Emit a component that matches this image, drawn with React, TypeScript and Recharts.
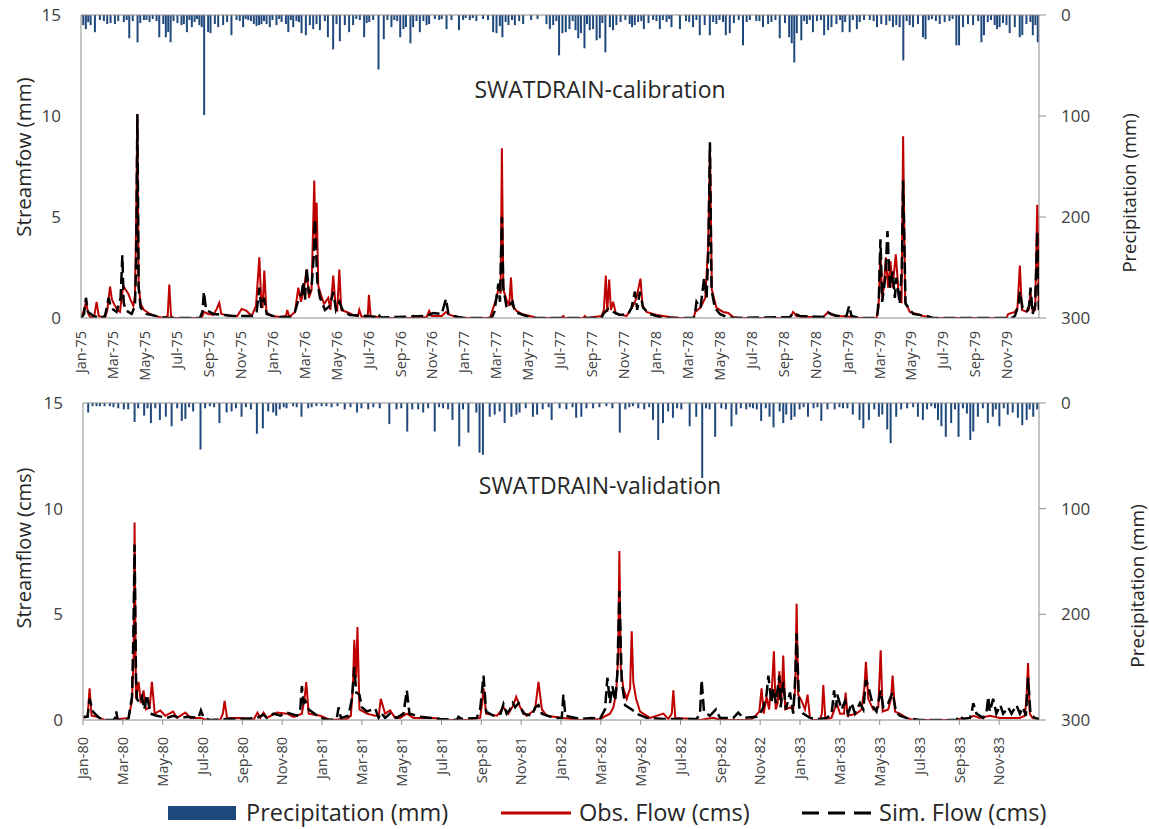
import React from 'react';
import { ComposedChart, Line, Bar, XAxis, YAxis, ReferenceLine } from 'recharts';

const FONT = '"Open Sans", "Noto Sans", sans-serif';
const AXIS = '#8c8c8c';
const TXT = '#404040';
const BLUE = '#1F497D';
const RED = '#C00000';

// x positions are month indexes from the start of each period (0 = Jan of first year)
const calTickLabels = [
  'Jan-75', 'Mar-75', 'May-75', 'Jul-75', 'Sep-75', 'Nov-75',
  'Jan-76', 'Mar-76', 'May-76', 'Jul-76', 'Sep-76', 'Nov-76',
  'Jan-77', 'Mar-77', 'May-77', 'Jul-77', 'Sep-77', 'Nov-77',
  'Jan-78', 'Mar-78', 'May-78', 'Jul-78', 'Sep-78', 'Nov-78',
  'Jan-79', 'Mar-79', 'May-79', 'Jul-79', 'Sep-79', 'Nov-79',
];
const valTickLabels = [
  'Jan-80', 'Mar-80', 'May-80', 'Jul-80', 'Sep-80', 'Nov-80',
  'Jan-81', 'Mar-81', 'May-81', 'Jul-81', 'Sep-81', 'Nov-81',
  'Jan-82', 'Mar-82', 'May-82', 'Jul-82', 'Sep-82', 'Nov-82',
  'Jan-83', 'Mar-83', 'May-83', 'Jul-83', 'Sep-83', 'Nov-83',
];

// [month, precipitation mm]
const calPrecip: [number, number][] = [
  [0.15, 10], [0.31, 14], [0.46, 7], [0.61, 10], [0.88, 17], [1.19, 5], [1.44, 6], [1.65, 9], [1.86, 8], [2.13, 9],
  [2.34, 6], [2.69, 7], [2.87, 5], [3.03, 23], [3.25, 6], [3.55, 27], [3.72, 8], [3.95, 5], [4.11, 5], [4.3, 7],
  [4.5, 4], [4.74, 6], [4.91, 22], [5.16, 9], [5.32, 22], [5.47, 17], [5.62, 27], [5.8, 6], [6.05, 8], [6.3, 10],
  [6.45, 9], [6.64, 17], [6.8, 5], [6.95, 12], [7.12, 7], [7.27, 4], [7.42, 10], [7.57, 12], [7.72, 99], [7.97, 17],
  [8.12, 18], [8.39, 9], [8.6, 12], [8.91, 10], [9.16, 7], [9.43, 20], [9.75, 5], [9.95, 6], [10.16, 12], [10.32, 4],
  [10.48, 5], [10.65, 6], [10.83, 9], [11.0, 11], [11.16, 10], [11.31, 9], [11.47, 6], [11.63, 9], [11.83, 12], [12.0, 5],
  [12.25, 10], [12.42, 4], [12.57, 7], [12.84, 9], [12.99, 17], [13.15, 5], [13.3, 12], [13.5, 6], [13.66, 7], [13.82, 18],
  [14.09, 20], [14.34, 10], [14.55, 14], [14.76, 9], [14.97, 15], [15.28, 6], [15.47, 22], [15.8, 34], [16.01, 9], [16.22, 26],
  [16.53, 10], [16.8, 17], [17.05, 10], [17.25, 4], [17.47, 5], [17.74, 22], [17.9, 8], [18.06, 7], [18.31, 5], [18.64, 54],
  [18.97, 24], [19.2, 5], [19.45, 12], [19.63, 5], [19.81, 6], [20.0, 22], [20.2, 14], [20.36, 12], [20.64, 28], [20.81, 12],
  [21.02, 6], [21.23, 17], [21.45, 6], [21.65, 10], [21.81, 9], [22.17, 4], [22.44, 5], [22.6, 4], [22.9, 14], [23.21, 5],
  [23.68, 15], [23.94, 5], [24.1, 3], [24.36, 5], [24.55, 3], [24.77, 6], [25.19, 4], [25.5, 5], [25.82, 17], [26.03, 18],
  [26.24, 11], [26.4, 22], [26.6, 7], [26.78, 10], [27.0, 5], [27.18, 10], [27.45, 6], [27.7, 9], [28.2, 5], [28.6, 4],
  [29.16, 9], [29.37, 14], [29.58, 10], [29.78, 6], [29.95, 40], [30.16, 18], [30.37, 17], [30.6, 14], [30.8, 6], [30.98, 15],
  [31.15, 23], [31.32, 18], [31.54, 33], [31.7, 9], [31.87, 15], [32.08, 14], [32.3, 25], [32.5, 23], [32.66, 8], [32.85, 37],
  [33.13, 12], [33.33, 15], [33.54, 10], [33.8, 7], [34.1, 5], [34.37, 9], [34.52, 12], [34.69, 10], [34.9, 7], [35.1, 6],
  [35.26, 14], [35.55, 8], [35.84, 5], [36.05, 6], [36.26, 14], [36.45, 5], [36.68, 7], [36.85, 4], [36.99, 12], [37.52, 14],
  [37.9, 6], [38.1, 7], [38.34, 12], [38.55, 5], [38.76, 20], [39.07, 10], [39.39, 20], [39.6, 7], [39.8, 9], [40.0, 5],
  [40.22, 7], [40.39, 20], [40.64, 18], [40.9, 8], [41.2, 5], [41.47, 30], [41.7, 7], [41.9, 5], [42.3, 6], [42.5, 6],
  [42.72, 12], [43.04, 9], [43.25, 7], [43.5, 5], [43.77, 23], [44.1, 8], [44.36, 22], [44.52, 28], [44.68, 47], [44.84, 18],
  [45.12, 25], [45.3, 6], [45.47, 9], [45.65, 5], [45.85, 17], [46.1, 6], [46.35, 5], [46.55, 20], [46.8, 15], [47.01, 12],
  [47.32, 9], [47.55, 5], [47.7, 17], [47.87, 7], [48.15, 17], [48.35, 5], [48.6, 14], [48.78, 7], [49.05, 5], [49.41, 5],
  [49.65, 6], [49.86, 12], [50.13, 9], [50.44, 10], [50.65, 6], [50.86, 12], [51.07, 10], [51.28, 12], [51.51, 45], [51.72, 6],
  [51.91, 10], [52.12, 12], [52.43, 9], [52.74, 22], [52.9, 24], [53.1, 5], [53.3, 4], [53.55, 6], [53.79, 9], [54.1, 7],
  [54.4, 6], [54.6, 4], [54.83, 30], [55.0, 30], [55.25, 12], [55.56, 9], [55.88, 10], [56.2, 6], [56.4, 27], [56.56, 20],
  [56.8, 7], [57.0, 5], [57.23, 10], [57.38, 14], [57.54, 12], [57.75, 8], [57.97, 10], [58.17, 18], [58.49, 12], [58.8, 22],
  [58.96, 20], [59.22, 9], [59.47, 7], [59.62, 20], [59.78, 10], [59.93, 27],
];

// [month, observed flow]
const calObs: [number, number][] = [
  [0, 0], [0.19, 0.4], [0.31, 0.8], [0.46, 0.2], [0.61, 0], [0.83, 0.1], [0.98, 0.8], [1.11, 0.1], [1.5, 0], [1.65, 0.4],
  [1.82, 1.55], [1.94, 0.9], [2.13, 0.6], [2.28, 0.4], [2.44, 0.3], [2.55, 1.0], [2.65, 1.6], [2.8, 1.4], [2.96, 1.2], [3.11, 0.9],
  [3.28, 0.6], [3.38, 1.1], [3.44, 4.0], [3.53, 10.0], [3.61, 1.6], [3.74, 0.7], [3.94, 0.4], [4.32, 0.2], [4.74, 0.08], [5.16, 0],
  [5.43, 0.1], [5.53, 1.65], [5.64, 0.1], [5.78, 0], [7.56, 0], [7.7, 0.3], [7.97, 0.2], [8.29, 0.15], [8.5, 0.45], [8.66, 0.75],
  [8.79, 0.2], [9.33, 0.1], [9.79, 0.1], [10.06, 0.45], [10.37, 0.35], [10.69, 0.1], [10.96, 0.6], [11.17, 3.0], [11.29, 0.8], [11.37, 0.5],
  [11.48, 2.35], [11.61, 0.3], [11.94, 0.1], [12.46, 0.05], [12.84, 0.1], [12.92, 0.4], [13.05, 0.05], [13.4, 0.3], [13.61, 1.5], [13.78, 0.8],
  [13.96, 1.4], [14.13, 2.4], [14.28, 1.0], [14.44, 1.4], [14.61, 6.8], [14.69, 3.5], [14.76, 5.7], [14.86, 1.6], [15.01, 1.2], [15.22, 0.7],
  [15.49, 1.0], [15.62, 0.4], [15.8, 2.1], [15.95, 0.5], [16.05, 0.4], [16.18, 2.4], [16.3, 0.4], [16.64, 0.3], [17.05, 0.15], [17.35, 0.1],
  [17.43, 0.4], [17.56, 0.08], [17.89, 0.05], [17.97, 0.2], [18.03, 1.15], [18.14, 0.1], [18.52, 0.05], [18.93, 0], [20.71, 0], [20.81, 0.1],
  [20.91, 0], [21.65, 0.05], [21.81, 0.35], [21.96, 0.1], [22.59, 0.1], [22.86, 0.3], [23.11, 0.15], [23.52, 0.05], [24.15, 0], [25.61, 0],
  [25.82, 0.5], [26.03, 1.0], [26.2, 1.7], [26.28, 1.2], [26.36, 8.4], [26.45, 1.4], [26.66, 0.9], [26.82, 0.6], [26.93, 2.0], [27.03, 0.6],
  [27.28, 0.35], [27.59, 0.2], [28.12, 0.1], [28.53, 0], [30.1, 0], [30.2, 0.1], [30.31, 0], [31.45, 0], [31.56, 0.1], [31.66, 0],
  [32.6, 0.1], [32.75, 0.4], [32.87, 2.1], [32.96, 0.3], [33.08, 1.9], [33.19, 0.4], [33.33, 0.8], [33.5, 0.2], [34.17, 0.1], [34.58, 0.6],
  [34.79, 1.0], [35.04, 1.95], [35.17, 0.6], [35.42, 0.3], [36.05, 0.15], [36.88, 0.05], [37.49, 0], [38.37, 0], [38.47, 0.3], [38.79, 0.5],
  [39.1, 1.0], [39.28, 3.6], [39.39, 8.6], [39.51, 1.4], [39.8, 0.5], [40.22, 0.3], [40.54, 0.25], [40.85, 0.05], [41.27, 0], [44.4, 0],
  [44.6, 0.3], [44.81, 0.1], [45.23, 0.05], [46.49, 0.05], [46.8, 0.3], [47.01, 0.15], [47.53, 0.1], [48.36, 0.05], [48.78, 0], [49.82, 0],
  [49.95, 0.5], [50.07, 3.3], [50.18, 1.0], [50.28, 1.5], [50.41, 3.0], [50.55, 1.5], [50.7, 2.8], [50.83, 1.5], [51.03, 3.15], [51.24, 0.9],
  [51.39, 0.8], [51.49, 9.0], [51.62, 0.8], [51.91, 0.3], [52.33, 0.2], [52.74, 0.1], [53.37, 0], [57.97, 0], [58.07, 0.2], [58.49, 0.3],
  [58.65, 0.5], [58.8, 2.6], [58.93, 0.4], [59.22, 0.3], [59.36, 0.4], [59.47, 1.3], [59.6, 0.3], [59.76, 0.4], [59.89, 5.6], [59.99, 0.5],
];

// [month, simulated flow]
const calSim: [number, number][] = [
  [0, 0], [0.19, 0.2], [0.31, 1.0], [0.44, 0.3], [0.77, 0.1], [1.19, 0], [1.5, 0.1], [1.61, 0.5], [1.73, 1.0], [1.88, 0.5],
  [2.23, 0.3], [2.48, 1.0], [2.59, 3.1], [2.67, 0.8], [2.78, 0.4], [3.17, 0.2], [3.38, 0.6], [3.46, 3.0], [3.53, 10.1], [3.61, 1.5],
  [3.74, 0.5], [4.11, 0.2], [4.95, 0.05], [5.36, 0], [7.45, 0], [7.6, 0.3], [7.7, 1.3], [7.83, 0.4], [8.29, 0.2], [9.54, 0.1],
  [10.79, 0.1], [11.0, 0.3], [11.17, 1.5], [11.29, 0.5], [11.46, 1.0], [11.63, 0.2], [12.25, 0.05], [13.09, 0.05], [13.4, 0.3], [13.65, 1.0],
  [13.82, 1.2], [13.92, 1.8], [14.03, 0.9], [14.13, 2.5], [14.28, 1.2], [14.44, 1.5], [14.57, 3.0], [14.65, 4.9], [14.8, 1.8], [14.97, 1.0],
  [15.28, 0.4], [15.59, 0.6], [15.8, 1.3], [15.97, 0.4], [16.18, 0.8], [16.43, 0.3], [16.85, 0.15], [17.89, 0.1], [18.47, 0.05], [18.62, 0.2],
  [18.77, 0.02], [21.65, 0.1], [22.06, 0.25], [22.59, 0.2], [22.86, 0.95], [23.01, 0.2], [23.32, 0.1], [23.94, 0], [25.72, 0], [25.89, 0.3],
  [26.14, 1.7], [26.24, 0.8], [26.36, 5.0], [26.45, 1.5], [26.66, 0.5], [27.03, 0.8], [27.18, 0.3], [27.7, 0.15], [28.33, 0], [32.6, 0],
  [32.71, 0.2], [33.02, 0.45], [33.33, 0.3], [33.75, 0.15], [34.27, 0.2], [34.48, 0.5], [34.69, 1.3], [34.84, 0.4], [35.0, 1.3], [35.21, 0.5],
  [35.63, 0.2], [36.05, 0.1], [36.46, 0], [38.37, 0], [38.47, 0.3], [38.55, 0.8], [38.8, 0.5], [39.03, 2.0], [39.18, 1.0], [39.3, 3.5],
  [39.39, 8.7], [39.49, 1.4], [39.7, 0.5], [40.01, 0.2], [40.43, 0.05], [40.85, 0], [44.4, 0.05], [44.6, 0.25], [45.02, 0.1], [46.49, 0.05],
  [46.8, 0.25], [47.32, 0.1], [47.94, 0.1], [48.11, 0.6], [48.26, 0.1], [48.78, 0], [49.86, 0], [49.97, 1.0], [50.07, 3.9], [50.18, 0.8],
  [50.37, 2.0], [50.51, 4.3], [50.66, 1.5], [50.83, 2.3], [50.97, 1.0], [51.07, 2.0], [51.28, 0.7], [51.41, 2.5], [51.49, 6.8], [51.64, 0.7],
  [52.12, 0.2], [52.95, 0.1], [53.37, 0], [58.28, 0], [58.49, 0.1], [58.7, 0.6], [58.8, 1.3], [58.97, 0.5], [59.22, 0.3], [59.38, 0.6],
  [59.47, 1.5], [59.6, 0.2], [59.76, 0.6], [59.89, 4.3], [59.99, 0.4],
];

const valPrecip: [number, number][] = [
  [0.28, 9], [0.5, 3], [0.7, 3], [0.87, 3], [1.1, 3], [1.37, 3], [1.55, 4], [1.79, 5], [2.07, 6], [2.29, 6],
  [2.61, 18], [2.79, 5], [3.09, 12], [3.26, 5], [3.43, 19], [3.65, 5], [3.88, 16], [4.18, 13], [4.47, 22], [4.75, 5],
  [4.98, 17], [5.16, 15], [5.35, 4], [5.55, 8], [5.92, 44], [6.15, 5], [6.39, 3], [6.6, 4], [6.87, 19], [7.23, 9],
  [7.48, 8], [7.7, 5], [7.98, 13], [8.2, 4], [8.45, 6], [8.75, 29], [9.05, 24], [9.32, 8], [9.57, 9], [9.72, 12],
  [9.9, 6], [10.1, 4], [10.24, 5], [10.57, 3], [10.75, 4], [10.99, 13], [11.33, 5], [11.5, 4], [11.74, 3], [12.0, 3],
  [12.24, 3], [12.5, 4], [12.8, 3], [13.16, 6], [13.45, 4], [13.78, 9], [14.0, 5], [14.34, 6], [14.6, 4], [14.92, 5],
  [15.4, 20], [15.76, 6], [16.0, 5], [16.3, 27], [16.55, 6], [16.85, 6], [17.1, 9], [17.35, 5], [17.68, 27], [17.9, 4],
  [18.1, 5], [18.35, 6], [18.57, 16], [18.91, 41], [19.1, 6], [19.37, 28], [19.77, 9], [19.93, 47], [20.1, 49], [20.44, 13],
  [20.69, 11], [20.94, 8], [21.19, 19], [21.53, 13], [21.78, 11], [21.94, 9], [22.25, 5], [22.61, 13], [22.82, 11], [23.1, 6],
  [23.4, 4], [23.55, 16], [23.95, 5], [24.29, 6], [24.6, 4], [24.78, 14], [25.04, 13], [25.3, 5], [25.63, 5], [25.95, 4],
  [26.3, 3], [26.6, 5], [26.97, 28], [27.25, 6], [27.45, 4], [27.63, 3], [27.9, 5], [28.2, 6], [28.45, 4], [28.64, 16],
  [28.9, 35], [29.14, 19], [29.4, 8], [29.64, 14], [29.85, 5], [30.06, 6], [30.48, 22], [30.81, 13], [31.11, 71], [31.3, 5],
  [31.48, 6], [31.76, 32], [32.07, 5], [32.3, 6], [32.58, 22], [32.82, 11], [33.05, 5], [33.32, 6], [33.5, 4], [33.66, 5],
  [33.85, 6], [34.07, 17], [34.3, 5], [34.49, 13], [34.69, 23], [35.0, 8], [35.18, 19], [35.33, 11], [35.58, 16], [35.75, 13],
  [36.0, 6], [36.2, 4], [36.42, 13], [36.7, 5], [36.9, 4], [37.09, 17], [37.4, 6], [37.76, 6], [38.0, 4], [38.18, 5],
  [38.4, 5], [38.67, 11], [39.01, 16], [39.2, 24], [39.48, 16], [39.75, 6], [39.98, 13], [40.15, 11], [40.4, 25], [40.57, 38],
  [40.85, 13], [41.1, 6], [41.4, 5], [41.7, 4], [41.94, 13], [42.19, 16], [42.4, 6], [42.61, 3], [42.8, 5], [42.95, 16],
  [43.12, 22], [43.34, 32], [43.61, 19], [43.8, 6], [43.98, 32], [44.2, 5], [44.4, 10], [44.57, 35], [44.72, 27], [44.95, 13],
  [45.2, 5], [45.45, 19], [45.7, 13], [45.85, 6], [46.03, 22], [46.25, 5], [46.45, 11], [46.7, 9], [46.96, 14], [47.18, 21],
  [47.4, 16], [47.55, 6], [47.73, 13], [47.93, 6],
];

const valObs: [number, number][] = [
  [0.03, 0.1], [0.23, 0.15], [0.33, 1.5], [0.43, 0.2], [0.7, 0.15], [1.07, 0], [1.62, 0], [1.87, 0.05], [2.29, 0.1], [2.46, 0.9],
  [2.54, 3.0], [2.59, 9.35], [2.66, 1.0], [2.79, 1.8], [2.91, 0.8], [3.04, 1.4], [3.16, 0.5], [3.35, 0.6], [3.46, 1.8], [3.6, 0.3],
  [3.88, 0.45], [4.13, 0.2], [4.52, 0.4], [4.72, 0.1], [5.14, 0.35], [5.39, 0.1], [5.89, 0.1], [6.22, 0], [6.89, 0], [7.02, 0.3],
  [7.11, 0.9], [7.23, 0.1], [8.06, 0.1], [8.56, 0], [8.76, 0.35], [8.9, 0.1], [9.07, 0.35], [9.23, 0.1], [9.74, 0.35], [10.24, 0.3],
  [10.57, 0.15], [10.99, 0.3], [11.12, 1.0], [11.21, 1.8], [11.33, 0.3], [11.91, 0.2], [12.41, 0], [13.25, 0.05], [13.45, 0.2], [13.55, 1.5],
  [13.62, 3.8], [13.71, 2.0], [13.78, 4.4], [13.88, 0.5], [14.25, 0.3], [14.67, 0.2], [14.85, 0.2], [14.95, 1.0], [15.17, 0.3], [15.42, 0.45],
  [15.67, 0.1], [15.92, 0.1], [16.26, 0.3], [16.59, 0.1], [17.6, 0.1], [17.93, 0.05], [18.27, 0], [19.28, 0], [19.94, 0.1], [20.04, 0.8],
  [20.11, 1.5], [20.24, 0.3], [20.78, 0.2], [21.11, 0.6], [21.36, 0.3], [21.61, 0.7], [21.75, 1.1], [21.95, 0.6], [22.28, 0.2], [22.7, 0.5],
  [22.87, 1.8], [23.04, 0.5], [23.29, 0.2], [24.12, 0.1], [24.96, 0], [25.96, 0.05], [26.46, 0.3], [26.63, 0.6], [26.77, 1.3], [26.87, 3.0],
  [26.93, 8.0], [27.0, 2.5], [27.13, 1.5], [27.3, 1.0], [27.47, 1.5], [27.55, 4.2], [27.63, 1.8], [27.77, 1.0], [27.97, 0.4], [28.47, 0.1],
  [29.14, 0.3], [29.39, 0.05], [29.56, 0.3], [29.64, 1.4], [29.74, 0.1], [30.66, 0.05], [30.98, 0], [31.65, 0.1], [31.99, 0], [33.49, 0],
  [33.66, 0.1], [33.96, 0.4], [34.07, 1.5], [34.18, 0.3], [34.32, 1.1], [34.45, 0.5], [34.49, 1.0], [34.59, 1.5], [34.69, 3.25], [34.78, 0.5],
  [34.88, 0.8], [34.96, 2.3], [35.06, 0.8], [35.16, 3.05], [35.26, 0.5], [35.5, 0.6], [35.66, 0.5], [35.76, 1.5], [35.83, 5.5], [35.91, 1.2],
  [36.08, 0.9], [36.25, 0.5], [36.38, 1.2], [36.5, 0.1], [36.67, 0], [37.0, 0], [37.1, 0.3], [37.17, 1.65], [37.27, 0.05], [37.58, 0.1],
  [37.84, 0.8], [38.01, 0.3], [38.21, 0.3], [38.29, 1.3], [38.39, 0.2], [38.84, 0.3], [39.09, 0.5], [39.23, 1.5], [39.31, 2.75], [39.43, 1.0],
  [39.68, 0.5], [39.93, 0.6], [40.05, 3.3], [40.15, 0.4], [40.43, 0.5], [40.57, 1.0], [40.65, 2.1], [40.77, 0.4], [41.01, 0.3], [41.34, 0.1],
  [41.68, 0], [43.94, 0], [43.99, 0.05], [44.53, 0.1], [44.7, 0.2], [45.03, 0.1], [45.53, 0.2], [46.03, 0.1], [47.04, 0.1], [47.29, 0.2],
  [47.37, 1.0], [47.45, 2.7], [47.54, 0.3], [47.67, 0.1], [48.0, 0.05],
];

const valSim: [number, number][] = [
  [0.03, 0.15], [0.23, 0.15], [0.33, 1.0], [0.5, 0.4], [0.7, 0.2], [0.95, 0], [1.54, 0], [1.61, 0.1], [1.67, 0.4], [1.74, 0],
  [2.21, 0], [2.29, 0.1], [2.46, 1.1], [2.53, 4.0], [2.59, 8.3], [2.66, 2.0], [2.71, 1.0], [2.84, 0.8], [2.96, 1.1], [3.08, 0.5],
  [3.21, 1.2], [3.38, 0.3], [3.71, 0.2], [4.22, 0.1], [4.52, 0.2], [4.88, 0.1], [5.22, 0.15], [5.8, 0.1], [5.92, 0.45], [6.06, 0.1],
  [6.39, 0], [7.23, 0.05], [8.06, 0.05], [8.73, 0.1], [9.07, 0.25], [9.23, 0.1], [9.57, 0.3], [9.9, 0.2], [10.24, 0.35], [10.74, 0.2],
  [10.91, 0.5], [10.99, 1.6], [11.07, 0.8], [11.16, 0.9], [11.33, 0.5], [11.91, 0.1], [12.41, 0], [12.75, 0.1], [12.83, 0.6], [12.95, 0.1],
  [13.33, 0.2], [13.5, 1.0], [13.62, 2.5], [13.72, 1.3], [13.88, 1.2], [14.0, 0.6], [14.25, 0.4], [14.67, 0.55], [14.84, 0.1], [14.95, 0.35],
  [15.17, 0.1], [15.42, 0.3], [15.75, 0.1], [16.09, 0.3], [16.26, 1.4], [16.39, 0.3], [16.93, 0.15], [17.93, 0.05], [18.77, 0], [18.85, 0.15],
  [19.02, 0.05], [19.77, 0.1], [19.94, 0.5], [20.11, 2.1], [20.24, 0.4], [20.61, 0.2], [20.97, 0.3], [21.11, 0.75], [21.27, 0.3], [21.44, 0.5],
  [21.58, 0.8], [21.7, 0.6], [21.87, 0.8], [22.12, 0.3], [22.54, 0.2], [22.7, 0.6], [22.87, 0.7], [23.04, 0.3], [23.62, 0.1], [24.04, 0.1],
  [24.12, 1.2], [24.22, 0.2], [24.96, 0.05], [25.54, 0.1], [25.96, 0.05], [26.21, 0.5], [26.33, 2.0], [26.46, 0.8], [26.58, 1.6], [26.72, 0.9],
  [26.83, 2.2], [26.93, 6.1], [27.05, 1.8], [27.22, 0.7], [27.55, 0.5], [27.8, 0.3], [28.3, 0.1], [29.14, 0.05], [30.81, 0.05], [30.98, 0.3],
  [31.06, 1.9], [31.18, 0.4], [31.47, 0.2], [31.78, 0.5], [31.98, 0.1], [32.65, 0.1], [32.9, 0.35], [33.15, 0.1], [33.82, 0.15], [33.99, 0.3],
  [34.16, 0.6], [34.32, 1.2], [34.41, 2.1], [34.57, 0.8], [34.66, 1.5], [34.79, 0.8], [34.96, 2.1], [35.03, 0.6], [35.16, 1.8], [35.29, 0.5],
  [35.5, 1.3], [35.66, 0.3], [35.76, 2.0], [35.83, 4.1], [35.96, 0.6], [36.16, 0.3], [36.5, 0.1], [37.0, 0.05], [37.34, 0.1], [37.59, 0.3],
  [37.71, 1.4], [37.81, 0.6], [37.87, 1.2], [38.09, 0.5], [38.26, 0.9], [38.42, 0.3], [38.59, 0.8], [38.76, 0.3], [39.01, 0.8], [39.18, 0.5],
  [39.31, 1.9], [39.43, 1.6], [39.68, 0.6], [39.84, 0.4], [40.05, 1.4], [40.18, 0.6], [40.43, 0.8], [40.65, 1.3], [40.82, 0.4], [41.01, 0.2],
  [41.34, 0.1], [41.68, 0.05], [42.01, 0], [43.86, 0], [43.99, 0.2], [44.19, 0.05], [44.53, 0.1], [44.61, 0.3], [44.7, 0.8], [44.86, 0.3],
  [45.2, 0.1], [45.37, 0.4], [45.45, 1.1], [45.53, 0.4], [45.7, 1.0], [45.86, 0.3], [46.06, 0.7], [46.2, 0.3], [46.45, 0.6], [46.62, 0.3],
  [46.87, 0.7], [47.04, 0.3], [47.2, 0.6], [47.34, 0.2], [47.45, 2.0], [47.57, 0.3], [47.78, 0.1], [48.0, 0.05],
];

type FlowRow = { m: number; obs?: number; sim?: number };
type RainRow = { m: number; precip: number };

function buildFlowRows(obs: [number, number][], sim: [number, number][]): FlowRow[] {
  const map = new Map<number, FlowRow>();
  const put = (m: number, key: 'obs' | 'sim', v: number) => {
    let r = map.get(m);
    if (!r) {
      r = { m };
      map.set(m, r);
    }
    r[key] = v;
  };
  obs.forEach(([m, v]) => put(m, 'obs', v));
  sim.forEach(([m, v]) => put(m, 'sim', v));
  return Array.from(map.values()).sort((a, b) => a.m - b.m);
}

function buildRainRows(precip: [number, number][]): RainRow[] {
  return precip.map(([m, v]) => ({ m, precip: v })).sort((a, b) => a.m - b.m);
}

const makeXTick = (labels: string[]) => (props: any) => {
  const { x, y, payload } = props;
  const label = labels[Math.round(payload.value / 2)];
  return (
    <text
      x={x}
      y={y}
      transform={`rotate(-90 ${x} ${y})`}
      textAnchor="end"
      dy="0.36em"
      fontSize={14.5}
      fill={TXT}
      fontFamily={FONT}
    >
      {label}
    </text>
  );
};

type PanelProps = {
  flow: FlowRow[];
  rain: RainRow[];
  labels: string[];
  top: number;
  height: number;
  plotTop: number;
  xAxisHeight: number;
  leftWidth: number;
  showXTicks: boolean;
  xTickMargin: number;
};

const RIGHT_W = 110;

function Panel({ flow, rain, labels, top, height, plotTop, xAxisHeight, leftWidth, showXTicks, xTickMargin }: PanelProps) {
  const months = labels.length * 2;
  const ticks = labels.map((_, i) => i * 2);
  return (
    <div style={{ position: 'absolute', left: 0, top, width: 1149, height }}>
      {/* precipitation bars hanging from the top, on the reversed right axis */}
      <div style={{ position: 'absolute', left: 0, top: 0 }}>
        <ComposedChart
          width={1149}
          height={height}
          data={rain}
          margin={{ top: plotTop, right: 0, bottom: xAxisHeight, left: leftWidth }}
        >
          <XAxis dataKey="m" type="number" domain={[0, months]} allowDataOverflow hide />
          <YAxis
            yAxisId="p"
            orientation="right"
            domain={[0, 300]}
            reversed
            ticks={[0, 100, 200, 300]}
            width={RIGHT_W}
            axisLine={{ stroke: AXIS }}
            tickLine={{ stroke: AXIS }}
            tickSize={7}
            tickMargin={15}
            tick={{ fontSize: 17, fill: TXT, fontFamily: FONT }}
          />
          <Bar yAxisId="p" dataKey="precip" fill={BLUE} barSize={2} isAnimationActive={false} />
        </ComposedChart>
      </div>
      {/* flows and the left / bottom axes */}
      <div style={{ position: 'absolute', left: 0, top: 0 }}>
        <ComposedChart width={1149} height={height} data={flow} margin={{ top: plotTop, right: RIGHT_W, bottom: 0, left: 0 }}>
          <XAxis
            dataKey="m"
            type="number"
            domain={[0, months]}
            ticks={ticks}
            interval={0}
            allowDataOverflow
            height={xAxisHeight}
            axisLine={{ stroke: AXIS }}
            tickLine={showXTicks ? { stroke: AXIS } : false}
            tickSize={5}
            tickMargin={xTickMargin}
            tick={makeXTick(labels)}
          />
          <YAxis
            yAxisId="f"
            domain={[0, 15]}
            ticks={[0, 5, 10, 15]}
            allowDataOverflow
            width={leftWidth}
            axisLine={{ stroke: AXIS }}
            tickLine={false}
            tickSize={6}
            tickMargin={14}
            tick={{ fontSize: 17, fill: TXT, fontFamily: FONT }}
          />
          <ReferenceLine yAxisId="f" y={15} stroke={AXIS} />
          <Line
            yAxisId="f"
            type="linear"
            dataKey="obs"
            stroke={RED}
            strokeWidth={2}
            dot={false}
            connectNulls
            isAnimationActive={false}
          />
          <Line
            yAxisId="f"
            type="linear"
            dataKey="sim"
            stroke="#000000"
            strokeWidth={2.5}
            strokeDasharray="12 5"
            dot={false}
            connectNulls
            isAnimationActive={false}
          />
        </ComposedChart>
      </div>
    </div>
  );
}

const calFlow = buildFlowRows(calObs, calSim);
const valFlow = buildFlowRows(valObs, valSim);
const calRain = buildRainRows(calPrecip);
const valRain = buildRainRows(valPrecip);

export default function App() {
  return (
    <div
      style={{
        position: 'absolute',
        left: 0,
        top: 0,
        width: 1149,
        height: 829,
        background: '#ffffff',
        fontFamily: FONT,
        overflow: 'hidden',
      }}
    >
      <Panel flow={calFlow} rain={calRain} labels={calTickLabels} top={0} height={400} plotTop={15} xAxisHeight={82} leftWidth={81} showXTicks={false} xTickMargin={8} />
      <Panel flow={valFlow} rain={valRain} labels={valTickLabels} top={390} height={410} plotTop={13} xAxisHeight={80} leftWidth={83} showXTicks={true} xTickMargin={12} />
      <svg width={1149} height={829} style={{ position: 'absolute', left: 0, top: 0, pointerEvents: 'none' }}>
        <g fontFamily={FONT} fill="#262626">
          <text x={600} y={98} textAnchor="middle" fontSize={23}>SWATDRAIN-calibration</text>
          <text x={600} y={494} textAnchor="middle" fontSize={23}>SWATDRAIN-validation</text>
          <text x={31} y={157} textAnchor="middle" fontSize={20.5} transform="rotate(-90 31 157)">Streamfow (mm)</text>
          <text x={31} y={548} textAnchor="middle" fontSize={20} transform="rotate(-90 31 548)">Streamflow (cms)</text>
          <text x={1136} y={193} textAnchor="middle" fontSize={18.5} transform="rotate(-90 1136 193)">Precipitation (mm)</text>
          <text x={1144} y={586} textAnchor="middle" fontSize={19} transform="rotate(-90 1144 586)">Precipitation (mm)</text>
        </g>
        <g fontFamily={FONT} fill="#262626" fontSize={23.5}>
          <rect x={168} y={806} width={68} height={14} fill={BLUE} />
          <text x={246} y={821}>Precipitation (mm)</text>
          <line x1={501} y1={813} x2={571} y2={813} stroke={RED} strokeWidth={3} />
          <text x={579} y={821}>Obs. Flow (cms)</text>
          <line x1={802} y1={813} x2={872} y2={813} stroke="#000" strokeWidth={3} strokeDasharray="17 9" />
          <text x={879} y={821}>Sim. Flow (cms)</text>
        </g>
      </svg>
    </div>
  );
}
